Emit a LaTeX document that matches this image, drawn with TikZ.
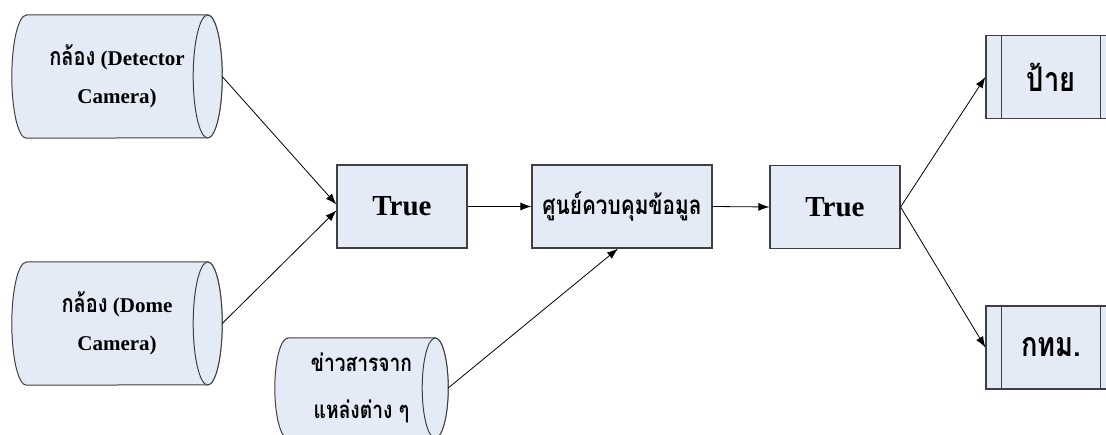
\documentclass[tikz,border=0pt]{standalone}
\usepackage{fontspec}
\setmainfont{Liberation Serif}
\newfontfamily\thaifont[Script=Thai,FakeStretch=0.8]{Loma}
\usetikzlibrary{shapes.geometric,arrows.meta,positioning,backgrounds}
\definecolor{BoxFill}{RGB}{228,234,246}
\definecolor{BoxLine}{RGB}{64,64,64}
\tikzset{
  cbox/.style={rectangle,align=center,inner sep=0pt,
               font=\fontsize{21}{38}\selectfont\bfseries},
  cyl/.style={draw=BoxLine,fill=BoxFill,line width=1pt},
  tbox/.style={draw=BoxLine,fill=BoxFill,rectangle,minimum width=130pt,
               minimum height=83pt,line width=1.2pt,inner sep=0pt,
               font=\fontsize{29}{32}\selectfont\bfseries},
  thbox/.style={tbox,font=\thaifont\fontsize{34}{36}\selectfont\bfseries},
  arr/.style={-{Latex[length=11pt,width=8pt]},black,line width=0.8pt},
}
\newcommand{\thword}[1]{{\thaifont\fontsize{25}{38}\selectfont #1}}

\begin{document}
\begin{tikzpicture}[x=1pt,y=1pt]
    \useasboundingbox (0,0) rectangle (1106,434);
    \clip (0,0) rectangle (1106,434);
    % Node definitions
    \node[cbox, minimum width=210pt, minimum height=123pt] (detcam) at (117, 357.5) {\thword{กล้อง} (Detector\\Camera)};
    \node[cbox, minimum width=210pt, minimum height=123pt] (domecam) at (117, 110.5) {\thword{กล้อง} (Dome\\Camera)};
    \node[cbox, minimum width=173pt, minimum height=100pt, font=\thaifont\fontsize{24}{47}\selectfont\bfseries] (news) at (361.5, 46) {ข่าวสารจาก\\แหล่งต่าง ๆ};
    \node[tbox] (truein) at (402, 227.5) {True};
    \node[thbox, minimum width=180pt, font=\thaifont\fontsize{26}{28}\selectfont\bfseries] (hub) at (622, 227.5) {ศูนย์ควบคุมข้อมูล};
    \node[tbox] (trueout) at (835, 227) {True};
    \node[thbox] (sign) at (1051, 357) {ป้าย};
    \node[thbox] (bma) at (1051, 86.5) {กทม.};
    \foreach \p in {sign, bma} {
        \draw[BoxLine, line width=1.2pt] ([xshift=16pt]\p.north west) -- ([xshift=16pt]\p.south west);
        \draw[BoxLine, line width=1.2pt] ([xshift=-16pt]\p.north east) -- ([xshift=-16pt]\p.south east);
    }
    % Cylinder outlines
    \begin{scope}[on background layer]
    \foreach \n/\r/\h in {detcam/14.5/61.5, domecam/14.5/61.5, news/13/50} {
        \draw[cyl] ([xshift=\r pt]\n.north west) -- ([xshift=-\r pt]\n.north east)
            arc[start angle=90, end angle=-90, x radius=\r pt, y radius=\h pt]
            -- ([xshift=\r pt]\n.south west)
            arc[start angle=270, end angle=90, x radius=\r pt, y radius=\h pt] -- cycle;
        \draw[cyl] ([xshift=-\r pt]\n.east) ellipse [x radius=\r pt, y radius=\h pt];
    }
    \end{scope}

    % Edges
    \draw[arr] (detcam.east) -- ([yshift=2pt]truein.west);
    \draw[arr] (domecam.east) -- ([yshift=-4pt]truein.west);
    \draw[arr] (truein.east) -- (hub.west);
    \draw[arr] (news.east) -- ([xshift=-4pt]hub.south);
    \draw[arr] (hub.east) -- (trueout.west);
    \draw[arr] (trueout.east) -- (sign.west);
    \draw[arr] (trueout.east) -- (bma.west);
\end{tikzpicture}
\end{document}
